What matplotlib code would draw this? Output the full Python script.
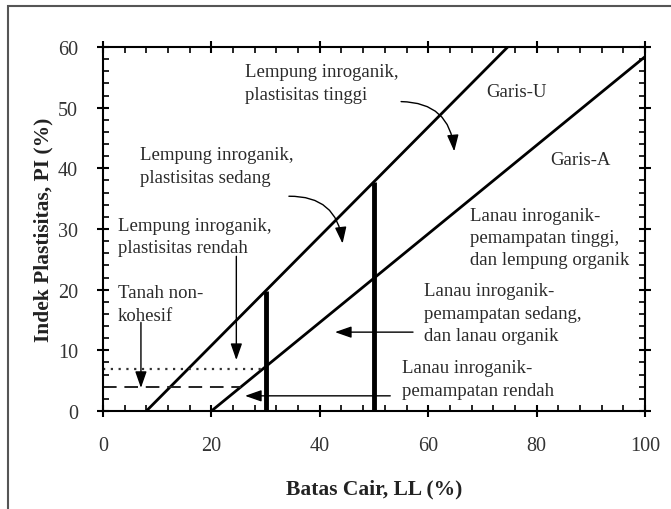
"""
Plasticity chart (Casagrande) with U-line and A-line, Indonesian labels.
"""
import matplotlib.pyplot as plt
from matplotlib.patches import Rectangle
import numpy as np

plt.rcParams["font.family"] = ["Liberation Serif", "DejaVu Serif"]

# U-line and A-line end points (LL, PI)
u_ll = [8, 74.67]
u_pi = [0, 60]
a_ll = [20, 100]
a_pi = [0, 58.4]

# boundary verticals at LL = 30 and 50, up to the U-line
div_ll = [30, 50]
div_top = [19.8, 37.8]

# non-cohesive band limits
dotted_pi = 7
dotted_ll = [0, 30]
dashed_pi = 4
dashed_ll = [0, 25.5]

# region labels: (text, LL, PI of first line)
labels = [
    ("Lempung inroganik,\nplastisitas tinggi", 26.2, 57.3),
    ("Garis-U", 70.8, 54.0),
    ("Garis-A", 82.5, 42.8),
    ("Lempung inroganik,\nplastisitas sedang", 6.9, 43.6),
    ("Lempung inroganik,\nplastisitas rendah", 2.7, 32.0),
    ("Tanah non-\nkohesif", 2.7, 20.9),
    ("Lanau inroganik-\npemampatan tinggi,\ndan lempung organik", 67.8, 33.7),
    ("Lanau inroganik-\npemampatan sedang,\ndan lanau organik", 59.2, 21.2),
    ("Lanau inroganik-\npemampatan rendah", 55.2, 8.5),
]

# arrows: (tail LL, tail PI, head LL, head PI, curvature)
arrows = [
    (55.0, 51.0, 64.8, 42.8, -0.45),
    (34.3, 35.4, 44.2, 27.6, -0.45),
    (24.6, 25.5, 24.6, 8.4, 0.0),
    (7.0, 14.6, 7.0, 3.8, 0.0),
    (57.2, 13.0, 42.8, 13.0, 0.0),
    (53.0, 2.5, 26.2, 2.5, 0.0),
]

fig = plt.figure(figsize=(6.71, 5.10), dpi=100)
fig.patches.append(Rectangle((8 / 671, -0.05), 1.0, 1 - 7 / 510 + 0.05,
                             transform=fig.transFigure, fill=False,
                             edgecolor="#555555", linewidth=1.5))
ax = fig.add_axes([103 / 671, 1 - 412 / 510, 542 / 671, 364 / 510])

ax.plot(u_ll, u_pi, color="black", linewidth=2)
ax.plot(a_ll, a_pi, color="black", linewidth=2)
for x, top in zip(div_ll, div_top):
    ax.plot([x, x], [0, top], color="black", linewidth=3.5, solid_capstyle="butt")
ax.plot(dotted_ll, [dotted_pi, dotted_pi], color="#333333", linestyle=(0, (1, 2.5)), linewidth=1.6)
ax.plot(dashed_ll, [dashed_pi, dashed_pi], color="#222222", linestyle=(0, (7, 4)), linewidth=1.4)

for txt, x, y in labels:
    ax.text(x, y, txt, fontsize=13.5, va="top", ha="left", linespacing=1.42, color="#2a2a2a")

for x0, y0, x1, y1, rad in arrows:
    ax.annotate("", xy=(x1, y1), xytext=(x0, y0),
                arrowprops=dict(arrowstyle="-|>,head_length=1.0,head_width=0.35",
                                color="black", linewidth=1,
                                connectionstyle=f"arc3,rad={rad}",
                                shrinkA=0, shrinkB=0))

ax.set_xlim(0, 100)
ax.set_ylim(0, 60)
ax.set_xticks(np.arange(0, 101, 20))
ax.set_yticks(np.arange(0, 61, 10))
ax.set_xticks(np.arange(0, 101, 4), minor=True)
ax.set_yticks(np.arange(0, 61, 2), minor=True)
ax.tick_params(which="major", direction="inout", length=8, width=1.5,
               top=True, right=True, labelsize=14.5, pad=14, labelcolor="#333333")
ax.tick_params(which="minor", direction="in", length=4, width=1.2, top=True, right=True)
for s in ax.spines.values():
    s.set_linewidth(1.5)

ax.set_xlabel("Batas Cair, LL (%)", fontsize=15.5, fontweight="bold", labelpad=17, color="#222222")
ax.set_ylabel("Indek Plastisitas, PI (%)", fontsize=15.5, fontweight="bold", labelpad=3, color="#222222")

plt.savefig("out.png", dpi=100)
plt.close()
